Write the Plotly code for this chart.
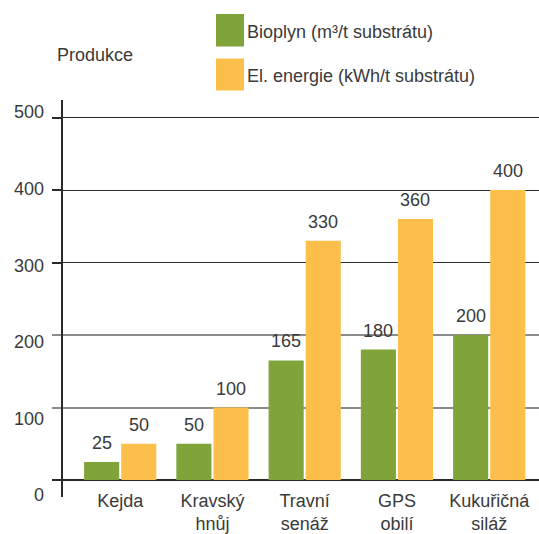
import plotly.graph_objects as go

categories = ["Kejda", "Kravský<br>hnůj", "Travní<br>senáž", "GPS<br>obilí", "Kukuřičná<br>siláž"]
bioplyn = [25, 50, 165, 180, 200]
energie = [50, 100, 330, 360, 400]
series_names = ["Bioplyn (m³/t substrátu)", "El. energie (kWh/t substrátu)"]
y_ticks = [0, 100, 200, 300, 400, 500]

GREEN = "#80a33a"
ORANGE = "#fdbf4b"
TEXT = "#3a3a3a"
FONT = "Liberation Sans, Arial, sans-serif"

W, H = 539, 534
L, R, T, B = 63, 0, 100, 37
plot_w = W - L - R
plot_h = H - T - B

fig = go.Figure()
fig.add_trace(go.Bar(x=categories, y=bioplyn, name=series_names[0],
                     marker=dict(color=GREEN, line=dict(width=0)), showlegend=False,
                     hoverinfo="skip"))
fig.add_trace(go.Bar(x=categories, y=energie, name=series_names[1],
                     marker=dict(color=ORANGE, line=dict(width=0)), showlegend=False,
                     hoverinfo="skip"))
# invisible helper trace so the label axis (y2) is drawn
fig.add_trace(go.Scatter(x=[categories[0]], y=[y_ticks[0]], yaxis="y2", mode="markers",
                         marker=dict(opacity=0, size=1), showlegend=False, hoverinfo="skip"))

annotations = []
for cat, v in zip(categories, bioplyn):
    annotations.append(dict(x=cat, y=v, xref="x", yref="y", text=str(v), showarrow=False,
                            xshift=-18.5, yshift=7, yanchor="bottom",
                            font=dict(size=18, color=TEXT, family=FONT)))
for cat, v in zip(categories, energie):
    annotations.append(dict(x=cat, y=v, xref="x", yref="y", text=str(v), showarrow=False,
                            xshift=18.5, yshift=7, yanchor="bottom",
                            font=dict(size=18, color=TEXT, family=FONT)))

def px(xp):
    return (xp - L) / plot_w

def py(yp):
    return (H - B - yp) / plot_h

# custom legend
shapes = [
    dict(type="rect", xref="paper", yref="paper", x0=px(216), x1=px(244), y0=py(46.5), y1=py(14),
         fillcolor=GREEN, line=dict(width=0)),
    dict(type="rect", xref="paper", yref="paper", x0=px(216), x1=px(244), y0=py(90.5), y1=py(58.5),
         fillcolor=ORANGE, line=dict(width=0)),
]
annotations.append(dict(x=px(245), y=py(32), xref="paper", yref="paper", text=series_names[0],
                        showarrow=False, xanchor="left", yanchor="middle",
                        font=dict(size=18, color=TEXT, family=FONT)))
annotations.append(dict(x=px(245), y=py(76), xref="paper", yref="paper", text=series_names[1],
                        showarrow=False, xanchor="left", yanchor="middle",
                        font=dict(size=18, color=TEXT, family=FONT)))
annotations.append(dict(x=px(55), y=py(54.5), xref="paper", yref="paper", text="Produkce",
                        showarrow=False, xanchor="left", yanchor="middle",
                        font=dict(size=18, color=TEXT, family=FONT)))

# scale: primary axis (bars) 0 at y=480px, 0.725 px per unit
s1 = 0.725
y1_range = [(480 - (H - B)) / s1, (480 - T) / s1]
# label axis: 0 label at 495px, 500 label at 112px
s2 = (495 - 112) / 500
y2_range = [(495 - (H - B)) / s2, (495 - T) / s2]

cat_w = 92.25
c0 = 120.2
x_range = [(L - c0) / cat_w, (W - R - c0) / cat_w]

fig.update_layout(
    width=W, height=H,
    margin=dict(l=L, r=R, t=T, b=B, pad=0, autoexpand=False),
    paper_bgcolor="white", plot_bgcolor="white",
    barmode="group", bargap=18 / 92, bargroupgap=0.054,
    font=dict(family=FONT, size=18, color=TEXT),
    showlegend=False,
    shapes=shapes,
    annotations=annotations,
    xaxis=dict(range=x_range, showline=False, showgrid=False, zeroline=False, ticks="",
               ticklabelstandoff=-9, automargin=False,
               tickfont=dict(size=18, color=TEXT, family=FONT), fixedrange=True),
    yaxis=dict(range=y1_range, tickmode="array", tickvals=[0, 300, 400, 500],
               showticklabels=False, showgrid=True, gridcolor="#2a2a2a", gridwidth=1.2,
               zeroline=True, zerolinecolor="#2a2a2a", zerolinewidth=2.4,
               showline=True, linecolor="#2a2a2a", linewidth=2, automargin=False,
               ticks="outside", ticklen=9, tickcolor="#2a2a2a", tickwidth=1.5,
               minor=dict(tickmode="array", tickvals=[100, 200], showgrid=True,
                          gridcolor="#8c8c8c", gridwidth=2, ticks="outside", ticklen=9,
                          tickcolor="#8c8c8c", tickwidth=2),
               fixedrange=True),
    yaxis2=dict(range=y2_range, overlaying="y", side="left", anchor="x",
                tickmode="array", tickvals=y_ticks, ticktext=[str(v) for v in y_ticks],
                showgrid=False, zeroline=False, showline=False, ticks="",
                ticklabelstandoff=18, automargin=False,
                tickfont=dict(size=18, color=TEXT, family=FONT), fixedrange=True),
)

fig.write_html("out.html")
